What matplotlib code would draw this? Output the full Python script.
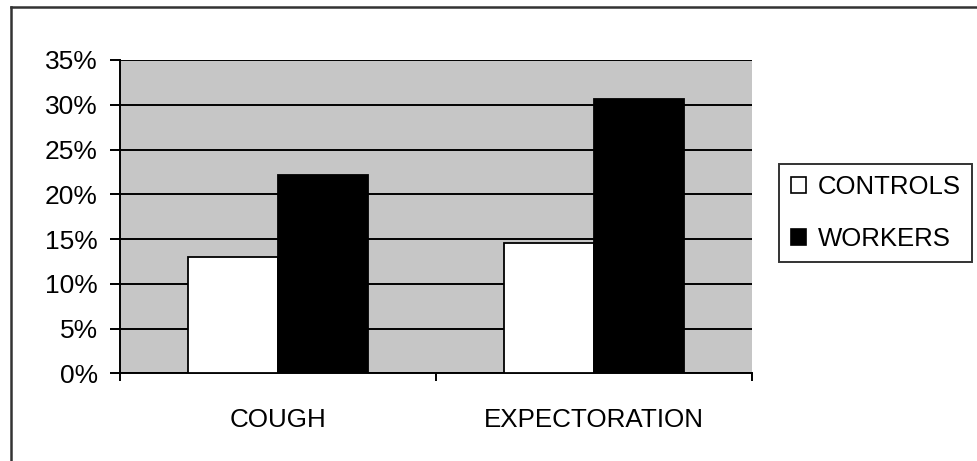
import numpy as np
import matplotlib
matplotlib.use("Agg")
import matplotlib.pyplot as plt
from matplotlib.lines import Line2D
from matplotlib.patches import Patch
from matplotlib.ticker import FuncFormatter, MultipleLocator

# Prevalence of symptoms (%)
categories = ["COUGH", "EXPECTORATION"]
controls = [13.0, 14.6]
workers = [22.2, 30.6]
series_names = ["CONTROLS", "WORKERS"]

plt.rcParams['font.family'] = ['Liberation Sans', 'DejaVu Sans']

W, H = 977, 461
fig = plt.figure(figsize=(W / 100, H / 100), dpi=100)
fig.patch.set_facecolor('white')

# axes box in pixels: x 120..752, y 60..373
ax = fig.add_axes([120 / W, 1 - 373.3 / H, 632 / W, 313.3 / H])
ax.set_facecolor('#c6c6c6')

x = np.arange(len(categories))
width = 1 / 3.5
ax.bar(x - width / 2, controls, width, color='white', edgecolor='black',
       linewidth=1.3, zorder=3, label=series_names[0])
ax.bar(x + width / 2, workers, width, color='black', edgecolor='black',
       linewidth=1.3, zorder=3, label=series_names[1])

ax.set_xlim(-0.5, len(categories) - 0.5)
ax.set_ylim(0, 35)
ax.yaxis.set_major_locator(MultipleLocator(5))
ax.yaxis.set_major_formatter(FuncFormatter(lambda v, p: f"{v:.0f}%"))
ax.grid(axis='y', color='black', linewidth=1.4, zorder=1)

# category ticks sit on the boundaries, labels in the middle
ax.set_xticks(np.arange(len(categories) + 1) - 0.5)
ax.set_xticklabels([])
ax.set_xticks(x, minor=True)
ax.set_xticklabels(categories, minor=True)
ax.tick_params(axis='x', which='major', length=6, width=1.4, color='black')
ax.tick_params(axis='x', which='minor', length=0, pad=25, labelsize=18.7)
ax.tick_params(axis='y', length=7, width=1.4, pad=9, labelsize=19)

for side in ['top', 'right']:
    ax.spines[side].set_visible(False)
ax.spines['left'].set_linewidth(1.4)
ax.spines['bottom'].set_linewidth(1.4)

handles = [Patch(facecolor='white', edgecolor='black', linewidth=1.2),
           Patch(facecolor='black', edgecolor='black', linewidth=1.2)]
leg = fig.legend(handles, series_names, loc='center left',
                 bbox_to_anchor=(779 / W, 1 - 213 / H), fontsize=18.5,
                 frameon=True, fancybox=False, handlelength=0.6,
                 handleheight=0.6, handletextpad=0.45, labelspacing=1.07,
                 borderpad=0.45, borderaxespad=0)
leg.get_frame().set_edgecolor('black')
leg.get_frame().set_linewidth(1.4)

# outer frame (top and left edges visible)
fig.add_artist(Line2D([11 / W, 1], [1 - 7 / H, 1 - 7 / H], color='#333333',
                      linewidth=1.8, transform=fig.transFigure))
fig.add_artist(Line2D([11 / W, 11 / W], [0, 1 - 7 / H], color='#333333',
                      linewidth=1.8, transform=fig.transFigure))

fig.savefig('out.png', dpi=100)
